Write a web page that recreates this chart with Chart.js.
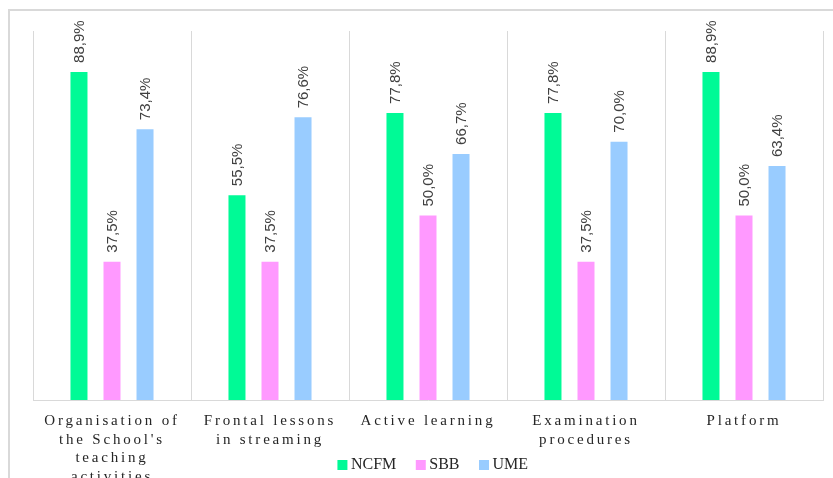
<!DOCTYPE html>
<html><head><meta charset="utf-8">
<script src="https://cdn.jsdelivr.net/npm/chart.js@4.4.1/dist/chart.umd.min.js"></script>
<style>
html,body{margin:0;padding:0;background:#fff;}
#wrap{position:relative;width:833px;height:478px;overflow:hidden;}
#frame{position:absolute;left:8px;top:9px;width:900px;height:600px;border-left:2px solid #d9d9d9;border-top:2px solid #d9d9d9;pointer-events:none;}
canvas{position:absolute;left:0;top:0;}
</style></head><body>
<div id="wrap"><canvas id="c" width="833" height="478"></canvas><div id="frame"></div></div>
<script>
const categories = [["Organisation of","the School's","teaching","activities"],["Frontal lessons","in streaming"],"Active learning",["Examination","procedures"],"Platform"];
const seriesNames = ["NCFM","SBB","UME"];
const ncfm = [88.9, 55.5, 77.8, 77.8, 88.9];
const sbb = [37.5, 37.5, 50.0, 37.5, 50.0];
const ume = [73.4, 76.6, 66.7, 70.0, 63.4];
const yMin = 0, yMax = 100;
const colors = ['#00FA96', '#FF99FF', '#99CCFF'];

const barLabels = {
  id: 'barLabels',
  afterDatasetsDraw(chart) {
    const ctx = chart.ctx;
    chart.data.datasets.forEach((ds, i) => {
      const meta = chart.getDatasetMeta(i);
      meta.data.forEach((bar, j) => {
        const v = ds.data[j];
        const txt = v.toFixed(1).replace('.', ',') + '%';
        ctx.save();
        ctx.translate(bar.x + 1, bar.y - 9);
        ctx.rotate(-Math.PI / 2);
        ctx.font = '15px "Liberation Sans"';
        ctx.fillStyle = '#404040';
        ctx.textAlign = 'left';
        ctx.textBaseline = 'middle';
        ctx.fillText(txt, 0, 0);
        ctx.restore();
      });
    });
  }
};

const spacedLabels = {
  id: 'spacedLabels',
  afterLayout(chart) {
    if (chart.legend) { chart.legend.left += 7; chart.legend.right += 7; }
  },
  afterUpdate(chart) {
    const s = chart.scales.x;
    if (s && !s._spacedPatched) {
      const orig = s.drawLabels;
      s._computeLabelArea = function () { return undefined; };
      s.drawLabels = function (area) {
        const ctx = this.ctx;
        ctx.save();
        ctx.letterSpacing = '2.8px';
        orig.call(this, area);
        ctx.restore();
      };
      s._spacedPatched = true;
    }
  }
};

new Chart(document.getElementById('c'), {
  type: 'bar',
  data: {
    labels: categories,
    datasets: [
      { label: seriesNames[0], data: ncfm, backgroundColor: colors[0] },
      { label: seriesNames[1], data: sbb, backgroundColor: colors[1] },
      { label: seriesNames[2], data: ume, backgroundColor: colors[2] }
    ]
  },
  options: {
    responsive: false,
    animation: false,
    devicePixelRatio: 1,
    categoryPercentage: 0.627,
    barPercentage: 0.515,
    layout: { padding: { left: 33, right: 10, top: 31, bottom: -5 } },
    plugins: {
      tooltip: { enabled: false },
      legend: {
        position: 'bottom',
        labels: {
          usePointStyle: true,
          pointStyle: 'rect',
          boxWidth: 1,
          boxHeight: 10,
          padding: 24,
          color: '#262626',
          font: { family: '"Liberation Serif"', size: 16 }
        }
      }
    },
    scales: {
      x: {
        grid: { color: '#d9d9d9', offset: true, drawTicks: false, lineWidth: 1 },
        border: { color: '#d9d9d9', width: 1 },
        ticks: {
          color: '#262626',
          padding: 12,
          maxRotation: 0,
          autoSkip: false,
          font: { family: '"Liberation Serif"', size: 15, lineHeight: 1.23 }
        },
        afterFit(s) { s.height = 33; }
      },
      y: { display: false, min: yMin, max: yMax }
    }
  },
  plugins: [barLabels, spacedLabels]
});
</script>
</body></html>
